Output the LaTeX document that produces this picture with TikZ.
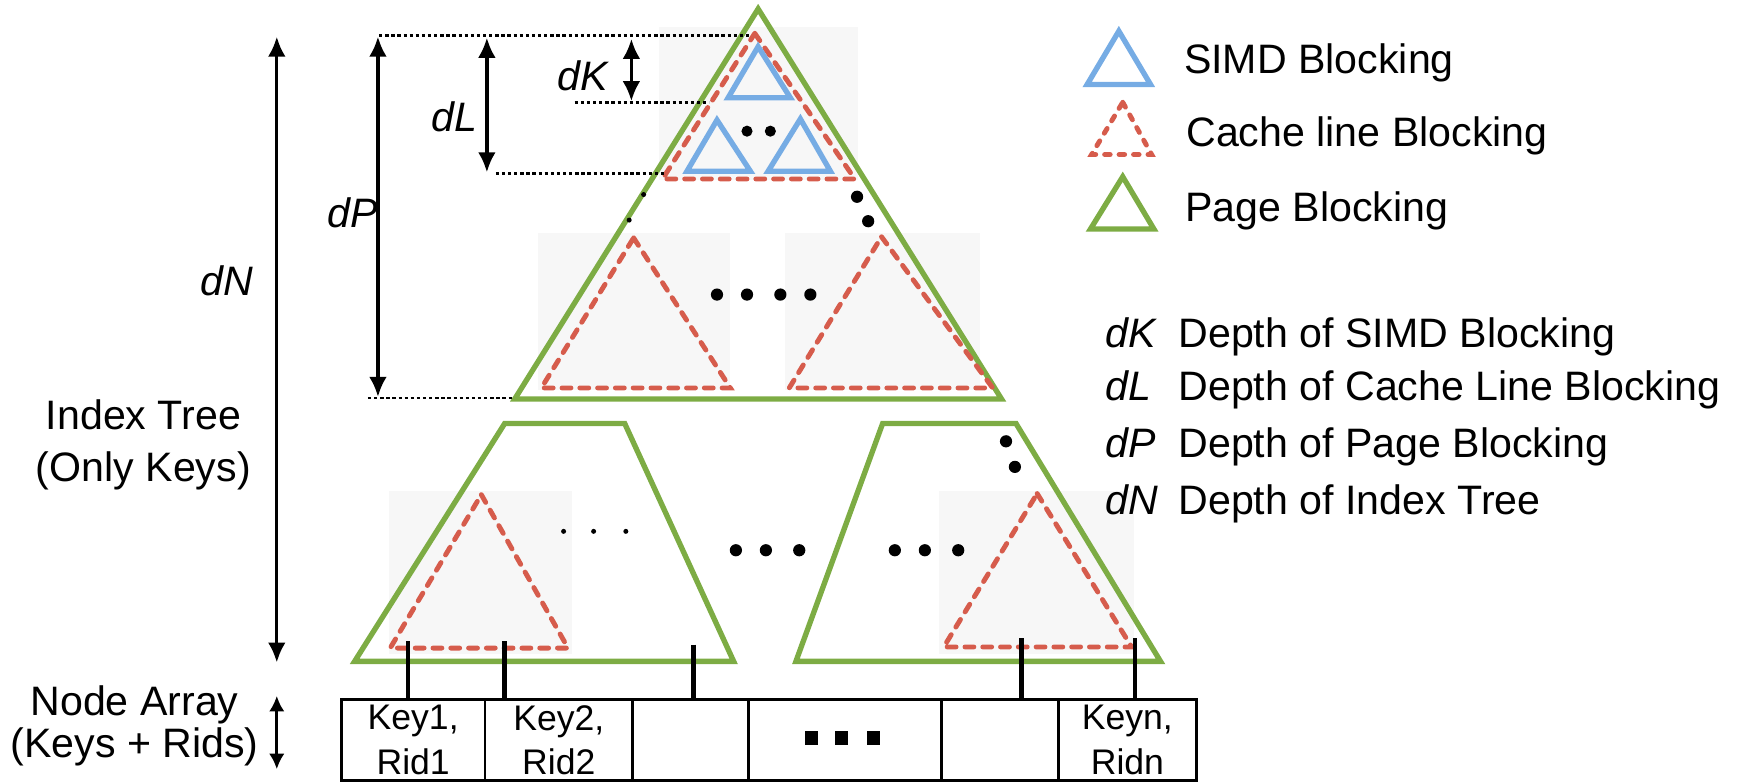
\documentclass[tikz,border=0pt]{standalone}
\usepackage{fontspec}
\setmainfont{Liberation Sans}
\usetikzlibrary{arrows.meta}
\definecolor{pagegreen}{RGB}{125,172,68}
\definecolor{cachered}{RGB}{214,92,76}
\definecolor{simdblue}{RGB}{118,172,228}
\definecolor{shadegray}{RGB}{247,247,247}
\begin{document}
\begin{tikzpicture}[x=1pt,y=-1pt,
  page/.style={draw=pagegreen,line width=4.8pt,line join=miter},
  cache/.style={draw=cachered,line width=4.4pt,dash pattern=on 8pt off 8pt,line cap=round},
  simd/.style={draw=simdblue,line width=4.8pt},
  guide/.style={draw=black,line width=2.6pt,dash pattern=on 3pt off 2.5pt},
  dimarrow/.style={draw=black,line width=3pt,{Latex[length=18pt,width=16pt]}-{Latex[length=18pt,width=16pt]}},
  shade/.style={fill=shadegray,draw=none},
  lbl/.style={font=\fontsize{37}{44}\selectfont,inner sep=0pt},
  ilbl/.style={font=\fontsize{37}{44}\selectfont\itshape,inner sep=0pt},
  cellbox/.style={draw=black,line width=2.4pt,minimum height=73pt,inner sep=0pt,anchor=north west,align=center,font=\fontsize{32}{40}\selectfont},
  link/.style={draw=black,line width=4pt},
  bigdot/.style={fill=black,circle,inner sep=0pt,minimum size=11pt},
  smalldot/.style={fill=black,circle,inner sep=0pt,minimum size=4.5pt},
  sq/.style={fill=black,inner sep=0pt,minimum size=12pt},
]
\useasboundingbox (0,0) rectangle (1568,703);

% light shading behind blocks
\fill[shade] (593,24) rectangle (772,162);
\fill[shade] (484,210) rectangle (657,351);
\fill[shade] (706,210) rectangle (882,351);
\fill[shade] (350,442) rectangle (515,588);
\fill[shade] (845,442) rectangle (1020,588);

% page block (top)
\draw[page] (682,8) -- (901,359) -- (463,359) -- cycle;
% cache line block (top)
\draw[cache] (679,30) -- (769,161) -- (596,161) -- cycle;
% simd blocks
\draw[simd] (682,42) -- (711,88) -- (655,88) -- cycle;
\draw[simd] (645,108) -- (675,154) -- (618,154) -- cycle;
\draw[simd] (720,107) -- (747,154) -- (691,154) -- cycle;
\node[smalldot,minimum size=10pt] (sd1) at (672,118) {};
\node[smalldot,minimum size=10pt] (sd2) at (693,118) {};
% dots along sides
\node[smalldot] (ld1) at (579,175) {};
\node[smalldot] (ld2) at (566,198) {};
\node[bigdot] (rd1) at (771,177) {};
\node[bigdot] (rd2) at (781,199) {};
% lower cache blocks inside page block
\draw[cache] (570,214) -- (657,349) -- (487,349) -- cycle;
\draw[cache] (793,213) -- (893,349) -- (710,349) -- cycle;
\node[bigdot] (md1) at (645,265) {};
\node[bigdot] (md2) at (672,265) {};
\node[bigdot] (md3) at (702,265) {};
\node[bigdot] (md4) at (729,265) {};

% lower page blocks (trapezoids)
\draw[page] (454,381) -- (562,381) -- (660,595) -- (319,595) -- cycle;
\draw[page] (794,381) -- (914,381) -- (1044,595) -- (716,595) -- cycle;
\draw[cache] (433,445) -- (511,583) -- (351,583) -- cycle;
\draw[cache] (933,444) -- (1018,582) -- (849,582) -- cycle;
\node[smalldot] (bd1) at (507,478) {};
\node[smalldot] (bd2) at (534,478) {};
\node[smalldot] (bd3) at (563,478) {};
\node[bigdot] (cd1) at (662,495) {};
\node[bigdot] (cd2) at (689,495) {};
\node[bigdot] (cd3) at (719,495) {};
\node[bigdot] (ed1) at (805,495) {};
\node[bigdot] (ed2) at (832,495) {};
\node[bigdot] (ed3) at (862,495) {};
\node[bigdot] (td1) at (905,397) {};
\node[bigdot] (td2) at (913,420) {};

% node array
\node[cellbox,minimum width=129pt] (c1) at (306,628) {Key1,\\Rid1};
\node[cellbox,minimum width=133pt] (c2) at (435,628) {Key2,\\Rid2};
\node[cellbox,minimum width=104pt] (c3) at (568,628) {};
\node[cellbox,minimum width=174pt] (c4) at (672,628) {};
\node[cellbox,minimum width=105pt] (c5) at (846,628) {};
\node[cellbox,minimum width=124pt] (c6) at (951,628) {Keyn,\\Ridn};
\node[sq] (q1) at (730,664) {};
\node[sq] (q2) at (757,664) {};
\node[sq] (q3) at (786,664) {};

% links from leaves to node array
\coordinate (l1) at (367,577);
\coordinate (l2) at (454,577);
\coordinate (l3) at (624,580);
\coordinate (l4) at (919,574);
\coordinate (l5) at (1021,574);
\draw[link] (l1) -- (l1 |- c1.north);
\draw[link] (l2) -- (l2 |- c2.north);
\draw[link] (l3) -- (l3 |- c3.north);
\draw[link] (l4) -- (l4 |- c5.north);
\draw[link] (l5) -- (l5 |- c6.north);

% dimension guides
\coordinate (gt0) at (341,32);
\coordinate (gt1) at (676,32);
\coordinate (gp0) at (331,358);
\coordinate (gp1) at (462,358);
\coordinate (gl0) at (446,156);
\coordinate (gl1) at (597,156);
\coordinate (gk0) at (517,92);
\coordinate (gk1) at (638,92);
\draw[guide] (gt0) -- (gt1);
\draw[guide] (gp0) -- (gp1);
\draw[guide] (gl0) -- (gl1);
\draw[guide] (gk0) -- (gk1);

\coordinate (pT) at (340,33);
\coordinate (pB) at (340,357);
\coordinate (lT) at (438,34);
\coordinate (lB) at (438,155);
\coordinate (kT) at (568,35);
\coordinate (kB) at (568,91);
\coordinate (nT) at (249,33);
\coordinate (nB) at (249,596);
\coordinate (aT) at (249,626);
\coordinate (aB) at (249,692);
\draw[dimarrow] (pT) -- (pB);
\draw[dimarrow] (lT) -- (lB);
\draw[dimarrow] (kT) -- (kB);
\draw[dimarrow] (nT) -- (nB);
\draw[dimarrow,{Latex[length=14pt,width=14pt]}-{Latex[length=14pt,width=14pt]}] (aT) -- (aB);

\node[ilbl] (dPl) at (317,191) {dP};
\node[ilbl] (dLl) at (409,105) {dL};
\node[ilbl] (dKl) at (524,68) {dK};
\node[ilbl] (dNl) at (204,253) {dN};

\node[lbl,align=center,font=\fontsize{37}{47}\selectfont] (idx) at (129,400) {Index Tree\\(Only Keys)};
\node[lbl,align=center,font=\fontsize{37}{38}\selectfont] (arr) at (121,653) {Node Array\\(Keys + Rids)};

% legend
\draw[simd] (1006.5,28) -- (1035,76) -- (978,76) -- cycle;
\draw[cache,dash pattern=on 5pt off 8pt] (1010,92) -- (1036,139) -- (982,139) -- cycle;
\draw[page] (1010,159) -- (1038,206) -- (981,206) -- cycle;
\node[lbl,anchor=base west] (lg1) at (1065,66) {SIMD Blocking};
\node[lbl,anchor=base west] (lg2) at (1067,132) {Cache line Blocking};
\node[lbl,anchor=base west] (lg3) at (1066,199.5) {Page Blocking};

\node[ilbl,anchor=base west] (k1) at (994,313) {dK};
\node[lbl,anchor=base west] (d1) at (1060,313) {Depth of SIMD Blocking};
\node[ilbl,anchor=base west] (k2) at (994,360) {dL};
\node[lbl,anchor=base west] (d2) at (1060,360) {Depth of Cache Line Blocking};
\node[ilbl,anchor=base west] (k3) at (994,412) {dP};
\node[lbl,anchor=base west] (d3) at (1060,412) {Depth of Page Blocking};
\node[ilbl,anchor=base west] (k4) at (994,463) {dN};
\node[lbl,anchor=base west] (d4) at (1060,463) {Depth of Index Tree};
\end{tikzpicture}
\end{document}
